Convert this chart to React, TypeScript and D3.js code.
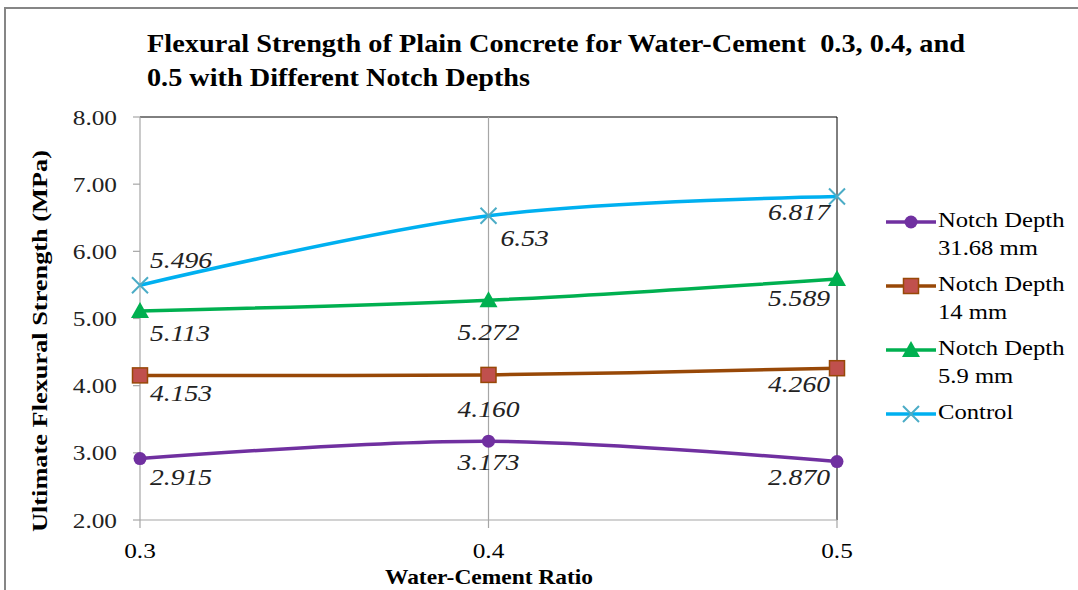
// flexural strength chart, drawn with d3 scales + JSX
import * as d3 from "d3";

const ratios = [0.3, 0.4, 0.5];
const ratioLabels = ["0.3", "0.4", "0.5"];
const yTicks = [2, 3, 4, 5, 6, 7, 8];

const notch3168 = [2.915, 3.173, 2.87];
const notch14 = [4.153, 4.16, 4.26];
const notch59 = [5.113, 5.272, 5.589];
const control = [5.496, 6.53, 6.817];

const notch3168Labels = ["2.915", "3.173", "2.870"];
const notch14Labels = ["4.153", "4.160", "4.260"];
const notch59Labels = ["5.113", "5.272", "5.589"];
const controlLabels = ["5.496", "6.53", "6.817"];

const legendNames = [
  ["Notch Depth", "31.68 mm"],
  ["Notch Depth", "14 mm"],
  ["Notch Depth", "5.9 mm"],
  ["Control"],
];

const serif = '"Liberation Serif", "Times New Roman", Tinos, serif';
const SX = 1.15; // text in the picture is a bit wider than plain Times

// label offsets: [anchor, dx, dy] per point
type Off = [string, number, number];
const series = [
  {
    values: notch3168,
    labels: notch3168Labels,
    color: "#7030A0",
    marker: "circle",
    offs: [["start", 10, 26], ["middle", 0, 29], ["end", -7, 23]] as Off[],
  },
  {
    values: notch14,
    labels: notch14Labels,
    color: "#984807",
    marker: "square",
    offs: [["start", 10, 26], ["middle", 0, 42], ["end", -7, 24]] as Off[],
  },
  {
    values: notch59,
    labels: notch59Labels,
    color: "#00B050",
    marker: "triangle",
    offs: [["start", 10, 30], ["middle", 0, 40], ["end", -7, 27]] as Off[],
  },
  {
    values: control,
    labels: controlLabels,
    color: "#00B0F0",
    marker: "x",
    offs: [["start", 10, -17], ["start", 12, 30], ["end", -7, 24]] as Off[],
  },
];

function Marker({ kind, x, y }: { kind: string; x: number; y: number }) {
  if (kind === "circle") return <circle cx={x} cy={y} r={6.5} fill="#7030A0" />;
  if (kind === "square")
    return (
      <rect x={x - 7.5} y={y - 7.5} width={15} height={15} fill="#C0504D" stroke="#984807" strokeWidth={1.5} />
    );
  if (kind === "triangle")
    return <path d={`M${x},${y - 9}L${x + 9},${y + 7}L${x - 9},${y + 7}Z`} fill="#00B050" />;
  return (
    <path
      d={`M${x - 8},${y - 8}L${x + 8},${y + 8}M${x - 8},${y + 8}L${x + 8},${y - 8}`}
      stroke="#4BACC6"
      strokeWidth={2}
    />
  );
}

function T(props: any) {
  const { x, y, children, anchor = "start", size = 22, weight = "normal", italic = false, sx = SX, ...rest } = props;
  return (
    <text
      transform={`translate(${x},${y}) scale(${sx},1)`}
      textAnchor={anchor}
      style={{ fontFamily: serif }}
      fontSize={size}
      fontWeight={weight}
      fontStyle={italic ? "italic" : "normal"}
      fill="#000"
      {...rest}
    >
      {children}
    </text>
  );
}

export default function App() {
  const W = 1078;
  const H = 590;
  const plot = { left: 140, right: 837, top: 117, bottom: 520 };

  const x = d3.scaleLinear().domain([0.3, 0.5]).range([plot.left, plot.right]);
  const y = d3.scaleLinear().domain([2, 8]).range([plot.bottom, plot.top]);

  const line = d3
    .line<number>()
    .x((d, i) => x(ratios[i]))
    .y((d) => y(d))
    .curve(d3.curveCardinal.tension(0));

  const gray = "#A6A6A6";

  return (
    <svg width={W} height={H} style={{ position: "absolute", left: 0, top: 0, background: "#fff", fontFamily: serif }}>
      <rect width={W} height={H} fill="#fff" />
      {/* outer chart border */}
      <path d={`M5,${H}V8H${W}`} fill="none" stroke="#868686" strokeWidth={2} />

      {/* title */}
      <text x={147} y={52} style={{ fontFamily: serif }} fontSize={26} fontWeight="bold" textLength={818} lengthAdjust="spacingAndGlyphs">
        {"Flexural Strength of Plain Concrete for Water-Cement\u00a0 0.3, 0.4, and"}
      </text>
      <text x={147} y={86} style={{ fontFamily: serif }} fontSize={26} fontWeight="bold" textLength={383} lengthAdjust="spacingAndGlyphs">
        0.5 with Different Notch Depths
      </text>

      {/* plot frame */}
      <line x1={plot.left} x2={plot.right} y1={plot.top} y2={plot.top} stroke="#000" strokeWidth={1} />
      <line x1={plot.right} x2={plot.right} y1={plot.top} y2={plot.bottom} stroke="#000" strokeWidth={1} />
      <line x1={x(0.4)} x2={x(0.4)} y1={plot.top} y2={plot.bottom} stroke={gray} strokeWidth={1.2} />
      <line x1={plot.left} x2={plot.left} y1={plot.top} y2={plot.bottom} stroke={gray} strokeWidth={1.2} />
      <line x1={plot.left} x2={plot.right} y1={plot.bottom} y2={plot.bottom} stroke={gray} strokeWidth={1.2} />

      {/* y axis */}
      {yTicks.map((t) => (
        <g key={t}>
          <line x1={plot.left - 7} x2={plot.left} y1={y(t)} y2={y(t)} stroke={gray} strokeWidth={1.2} />
          <T x={plot.left - 23} y={y(t) + 7.5} anchor="end" size={22} fill="#222">
            {t.toFixed(2)}
          </T>
        </g>
      ))}

      {/* x axis */}
      {ratios.map((r, i) => (
        <g key={r}>
          <line x1={x(r)} x2={x(r)} y1={plot.bottom} y2={plot.bottom + 8} stroke={gray} strokeWidth={1.2} />
          <T x={x(r)} y={plot.bottom + 38} anchor="middle" size={22}>
            {ratioLabels[i]}
          </T>
        </g>
      ))}

      {/* axis titles */}
      <text
        transform={`translate(47,341) rotate(-90)`}
        textAnchor="middle"
        style={{ fontFamily: serif }}
        fontSize={22}
        fontWeight="bold"
        textLength={382}
        lengthAdjust="spacingAndGlyphs"
      >
        Ultimate Flexural Strength (MPa)
      </text>
      <text x={489} y={584} textAnchor="middle" style={{ fontFamily: serif }} fontSize={22} fontWeight="bold" textLength={208} lengthAdjust="spacingAndGlyphs">
        Water-Cement Ratio
      </text>

      {/* series */}
      {series.map((s, si) => (
        <g key={si}>
          <path d={line(s.values) || ""} fill="none" stroke={s.color} strokeWidth={3.5} />
          {s.values.map((v, i) => (
            <Marker key={i} kind={s.marker} x={x(ratios[i])} y={y(v)} />
          ))}
          {s.values.map((v, i) => {
            const [anchor, dx, dy] = s.offs[i];
            return (
              <T key={"l" + i} x={x(ratios[i]) + dx} y={y(v) + dy} anchor={anchor} size={24} italic fill="#222">
                {s.labels[i]}
              </T>
            );
          })}
        </g>
      ))}

      {/* legend */}
      {series.map((s, i) => {
        const ly = 222 + i * 64;
        return (
          <g key={"lg" + i}>
            <line x1={886} x2={936} y1={ly} y2={ly} stroke={s.color} strokeWidth={3.5} />
            <Marker kind={s.marker} x={911} y={ly} />
            {legendNames[i].map((n, j) => (
              <T key={j} x={938} y={ly + 5 + j * 28} size={22} sx={1.12}>
                {n}
              </T>
            ))}
          </g>
        );
      })}
    </svg>
  );
}
